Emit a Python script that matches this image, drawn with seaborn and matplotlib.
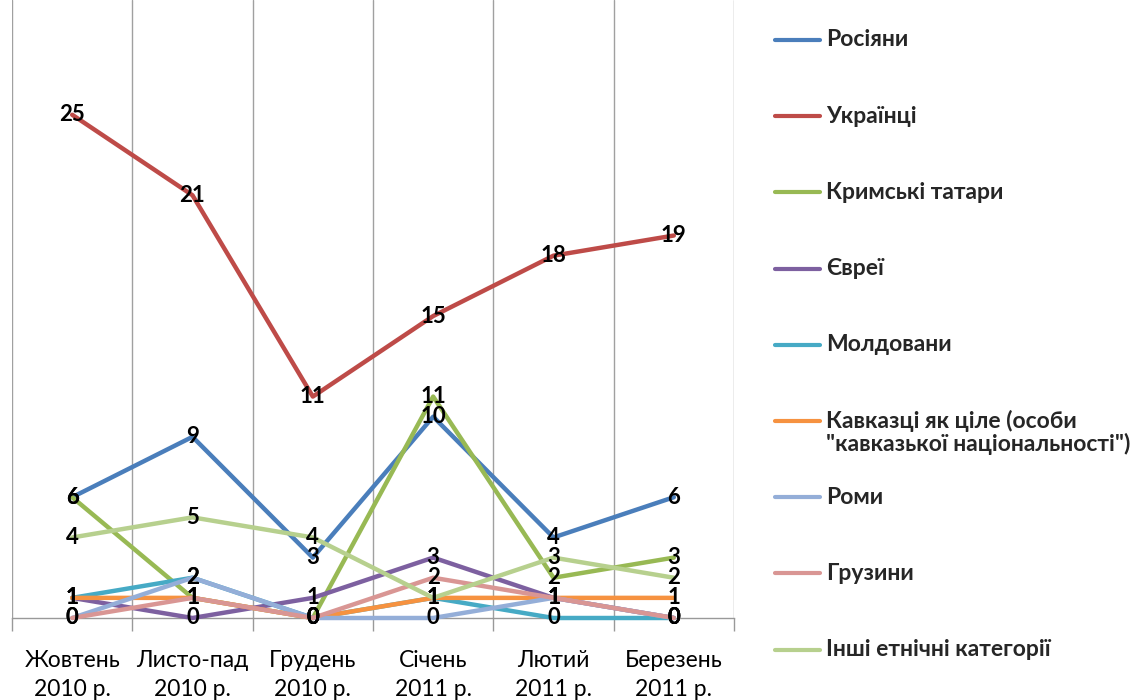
import numpy as np
import pandas as pd
import seaborn as sns
import matplotlib.pyplot as plt
from matplotlib.lines import Line2D

# Months (category axis)
months = ['Жовтень\n2010 р.', 'Листо-пад\n2010 р.', 'Грудень\n2010 р.',
          'Січень\n2011 р.', 'Лютий\n2011 р.', 'Березень\n2011 р.']

# Series names
groups = ['Росіяни', 'Українці', 'Кримські татари', 'Євреї', 'Молдовани',
          'Кавказці як ціле (особи\n"кавказької національності")',
          'Роми', 'Грузини', 'Інші етнічні категорії']

# Series values
russians = [6, 9, 3, 10, 4, 6]
ukrainians = [25, 21, 11, 15, 18, 19]
crimean_tatars = [6, 1, 0, 11, 2, 3]
jews = [1, 0, 1, 3, 1, 0]
moldovans = [1, 2, 0, 1, 0, 0]
caucasians = [1, 1, 0, 1, 1, 1]
roma = [0, 2, 0, 0, 1, 0]
georgians = [0, 1, 0, 2, 1, 0]
others = [4, 5, 4, 1, 3, 2]

series = [russians, ukrainians, crimean_tatars, jews, moldovans,
          caucasians, roma, georgians, others]

colors = ['#4A7EBB', '#BE4B48', '#98B954', '#7D60A0', '#46AAC5',
          '#F69240', '#94AED8', '#D99694', '#B7D08E']

# Long table for seaborn
rows = []
for name, vals in zip(groups, series):
    for i, v in enumerate(vals):
        rows.append({'x': i, 'value': v, 'group': name})
df = pd.DataFrame(rows)

sns.set_theme(style='white')
plt.rcParams['font.family'] = ['Lato', 'Noto Sans', 'DejaVu Sans']

fig = plt.figure(figsize=(11.34, 7), dpi=100)
ax = fig.add_axes([12 / 1134, 82 / 700, 722 / 1134, 618 / 700])

sns.lineplot(data=df, x='x', y='value', hue='group', hue_order=groups,
             palette=colors, linewidth=3.2, legend=False, errorbar=None,
             sort=False, ax=ax)
for line in ax.lines:
    line.set_clip_on(False)
    line.set_zorder(3)

# Data labels centred on points
for vals in series:
    for i, v in enumerate(vals):
        ax.text(i, v, str(v), ha='center', va='center', fontsize=16,
                fontweight='bold', color='black', zorder=5)

ax.set_xlim(-0.5, 5.5)
ax.set_ylim(0, 30.7)
ax.set_yticks([])
ax.set_xlabel('')
ax.set_ylabel('')
ax.set_xticks(range(len(months)))
ax.set_xticklabels(months)
ax.set_xticks(np.arange(-0.5, len(months), 1), minor=True)
ax.tick_params(axis='x', which='major', length=0, pad=23, labelsize=16.5,
               colors='black')
ax.tick_params(axis='x', which='minor', length=9, width=1, color='#999999',
               bottom=True)
for lbl in ax.get_xticklabels():
    lbl.set_linespacing(1.5)
ax.grid(False)
ax.grid(True, which='minor', axis='x', color='#A0A0A0', linewidth=1)

for s in ['top', 'right', 'left']:
    ax.spines[s].set_visible(False)
ax.spines['bottom'].set_color('#999999')
ax.spines['bottom'].set_linewidth(1)
ax.spines['bottom'].set_zorder(1)

# Legend on the right, handle aligned with first text line
fig_w, fig_h = 1134, 700
for k, (name, col) in enumerate(zip(groups, colors)):
    y_px = 40 + k * 76.2
    yf = 1 - y_px / fig_h
    fig.add_artist(Line2D([775 / fig_w, 820 / fig_w], [yf, yf], color=col,
                          linewidth=3.0, transform=fig.transFigure))
    n_lines = name.count('\n') + 1
    y_text = 1 - (y_px + (n_lines - 1) * 11.5) / fig_h
    fig.text(826 / fig_w, y_text, name, ha='left', va='center',
             fontsize=16.5, fontweight='bold', linespacing=1.05)

plt.savefig('out.png', dpi=100)
